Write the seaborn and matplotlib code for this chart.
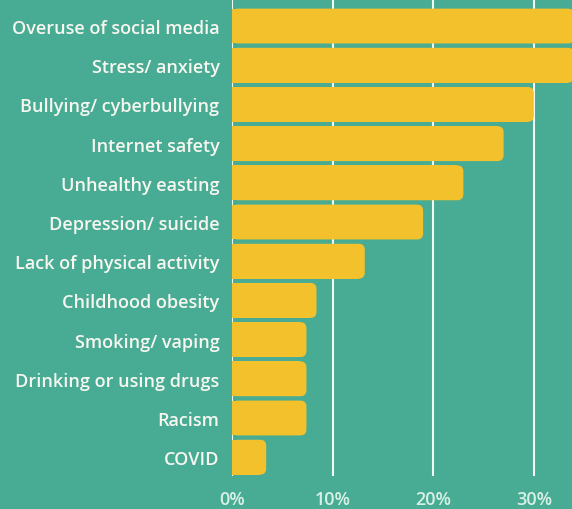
import matplotlib
matplotlib.use("Agg")
import matplotlib.pyplot as plt
import seaborn as sns
import pandas as pd
from matplotlib.patches import FancyBboxPatch

categories = ["Overuse of social media", "Stress/ anxiety", "Bullying/ cyberbullying",
              "Internet safety", "Unhealthy easting", "Depression/ suicide",
              "Lack of physical activity", "Childhood obesity", "Smoking/ vaping",
              "Drinking or using drugs", "Racism", "COVID"]
values = [34, 34, 30, 27, 23, 19, 13.2, 8.4, 7.4, 7.4, 7.4, 3.4]
tick_values = [0, 10, 20, 30]
tick_labels = ["0%", "10%", "20%", "30%"]

BG = "#48ab94"
BAR = "#f3c12b"

sns.set_theme(style="white")
plt.rcParams['font.family'] = ['Open Sans', 'DejaVu Sans']

df = pd.DataFrame({"cat": categories, "val": values})

fig = plt.figure(figsize=(5.72, 5.10), dpi=100, facecolor=BG)
ax = fig.add_axes([232/572, 33/510, 340/572, 477/510])
ax.set_facecolor(BG)

sns.barplot(data=df, x="val", y="cat", color=BAR, width=0.89, ax=ax, saturation=1, zorder=2)

r = 0.6
aspect = 0.26
for p in list(ax.patches):
    x, y, w, h = p.get_x(), p.get_y(), p.get_width(), p.get_height()
    p.set_width(max(w - r, 0))
    p.set_edgecolor("none")
    fb = FancyBboxPatch((x, y), w, h, boxstyle=f"round,pad=0,rounding_size={r}",
                        mutation_aspect=aspect, facecolor=BAR, edgecolor="none", zorder=2)
    ax.add_patch(fb)

ax.set_xlim(0, 33.8)
ax.set_ylim(11.48, -0.69)
ax.set_xticks(tick_values)
ax.set_xticklabels(tick_labels, color="#d9f0e6", fontsize=13, fontweight="semibold")
ax.tick_params(axis="x", length=0, pad=10)
ax.tick_params(axis="y", length=0, pad=9)
for lab in ax.get_yticklabels():
    lab.set_color("#f7f7f0")
    lab.set_fontsize(13)
    lab.set_fontweight("semibold")
ax.set_xlabel("")
ax.set_ylabel("")
ax.xaxis.grid(True, color="#f2f7f2", linewidth=1.5, zorder=1)
ax.yaxis.grid(False)
ax.set_axisbelow(True)
for s in ax.spines.values():
    s.set_visible(False)

fig.savefig("out.png", dpi=100, facecolor=BG)
